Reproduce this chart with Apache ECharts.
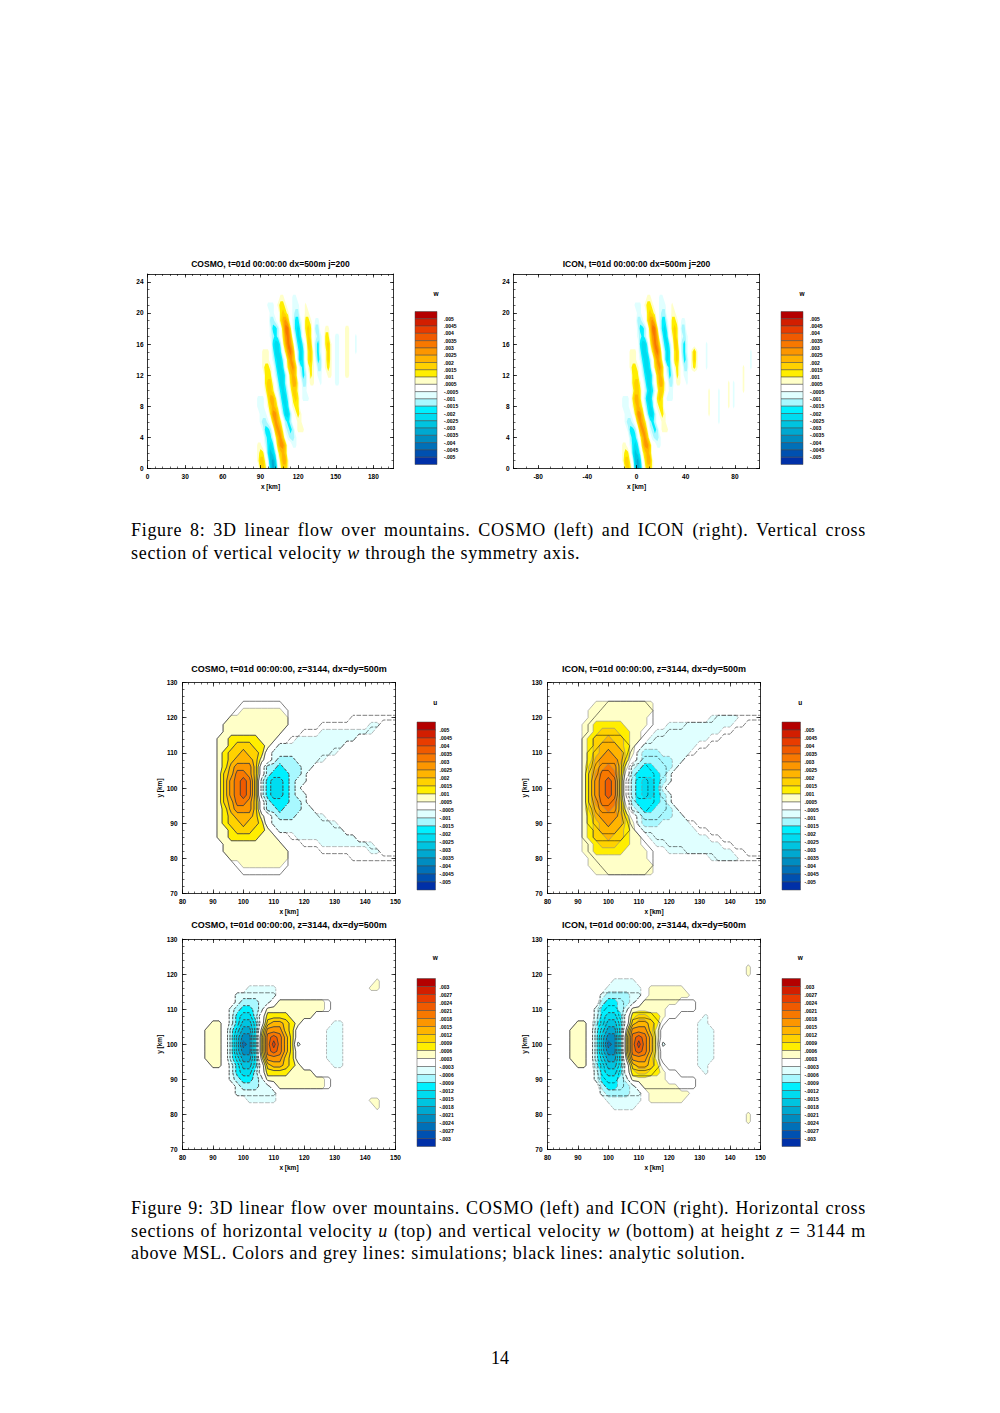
<!DOCTYPE html>
<html>
<head>
<meta charset="utf-8">
<title>3D linear flow over mountains - COSMO / ICON</title>
<script src="https://cdn.jsdelivr.net/npm/echarts@6/dist/echarts.min.js"></script>
<style>
  html, body { margin: 0; padding: 0; background: #fff; }
  #page { position: relative; width: 1000px; height: 1413px; overflow: hidden; background: #fff; }
  #chart { position: absolute; left: 0; top: 0; width: 1000px; height: 1413px; }
  .cap { position: absolute; left: 131px; width: 735px; font-family: "Liberation Serif", "Times New Roman", serif;
         font-size: 18px; letter-spacing: 0.7px; line-height: 22.5px; color: #000; }
  .cap .full { text-align: justify; text-align-last: justify; }
  #pageno { position: absolute; left: 0; width: 1000px; top: 1347px; text-align: center;
            font-family: "Liberation Serif", serif; font-size: 18px; line-height: 22.5px; }
</style>
</head>
<body>
<div id="page">
  <div id="chart"></div>
  <div class="cap" style="top:519px">
    <div class="full">Figure 8: 3D linear flow over mountains. COSMO (left) and ICON (right). Vertical cross</div>
    <div>section of vertical velocity <i>w</i> through the symmetry axis.</div>
  </div>
  <div class="cap" style="top:1197px">
    <div class="full">Figure 9: 3D linear flow over mountains. COSMO (left) and ICON (right). Horizontal cross</div>
    <div class="full">sections of horizontal velocity <i>u</i> (top) and vertical velocity <i>w</i> (bottom) at height <i>z</i> = 3144 m</div>
    <div>above MSL. Colors and grey lines: simulations; black lines: analytic solution.</div>
  </div>
  <div id="pageno">14</div>
</div>
<script>
// colour boxes of the colour bars, from the top box (largest value) down to the bottom box
const bandColors = ['#b40000', '#d21e00', '#e83c00', '#f05a00', '#f87800', '#fc9600', '#ffb400',
  '#ffd200', '#ffee00', '#ffffc8', '#ffffff', '#e0ffff', '#a8f8ff', '#00f0ff', '#00dcf0',
  '#00c4e0', '#00a8d0', '#008cc0', '#0070b8', '#0050b0', '#0030a8'];

// colour bar labels (box boundaries, top to bottom)
const labels0005 = ['.005', '.0045', '.004', '.0035', '.003', '.0025', '.002', '.0015', '.001', '.0005',
  '-.0005', '-.001', '-.0015', '-.002', '-.0025', '-.003', '-.0035', '-.004', '-.0045', '-.005'];
const labels0003 = ['.003', '.0027', '.0024', '.0021', '.0018', '.0015', '.0012', '.0009', '.0006', '.0003',
  '-.0003', '-.0006', '-.0009', '-.0012', '-.0015', '-.0018', '-.0021', '-.0024', '-.0027', '-.003'];

// tick labels
const xTicksCosmo8 = [0, 30, 60, 90, 120, 150, 180];
const xTicksIcon8 = [-80, -40, 0, 40, 80];
const zTicks8 = [0, 4, 8, 12, 16, 20, 24];
const xTicks9 = [80, 90, 100, 110, 120, 130, 140, 150];
const yTicks9 = [70, 80, 90, 100, 110, 120, 130];

// Fields, one string per grid row, one character per grid point.
// '.' = white box, '1'..'9' = positive box 1..9 (1 = first box above zero),
// 'a'..'i' = negative box 1..9 (a = first box below zero).

// Fig. 8, COSMO w: x = 80, 82 .. 176 km, one row per km of height (z = 0 .. 23 km)
const cosmoW8 = [
  '.....232.dfea1331',
  '....1331aefd.2441',
  '....122.cedb1343',
  '....11.acdc.3553..aa',
  '.......bcca1453.abba',
  '......accb.4541abcb.111',
  '.....abba.3542.bcb..11',
  '.....aaa.2553.bddb.121',
  '....aaa.13431acdc.122',
  '....aaa.2442.bddb.232.aaa',
  '.......1332.acdca1331.aa',
  '.......2331.bddb.2441.bb.11..a.....aa',
  '.......222.acddb.343.acb.21.aa..11.aa..11',
  '......1221.bddc.2453.bca121.bb.121.aa..11',
  '......111.acddb.3541bdc.231acb.131.aa..11',
  '......111.bddc.2564.bdc.231bca.131.aa..11..a',
  '..........cddb14652acdb.33.bca.231.aa..11..a',
  '.........abcb.2564.bdc.132.aba.22..aa..11..a',
  '.........accb.3662acdb.232.bb..11......11',
  '.........bba.2453.acca.221.aa',
  '.........aa..2321.abb..11',
  '........aaa.1221..aaa..1',
  '.............11...aa',
  ''
];

// Fig. 8, ICON w: x = -19, -17 .. 97 km, z = 0 .. 23 km
const iconW8 = [
  '.....232.dfea1331',
  '....1331aefd.2441',
  '....122.cedb1343',
  '....11.acdc.3553..aa',
  '.......bcca1453.abba',
  '......accb.4541abcb.111',
  '.....abba.3542.bcb..11' + '.....................' + 'a',
  '.....aaa.2553.bddb.121' + '.................' + '1...a',
  '....aaa.13431acdc.122' + '..................' + '1...a...1.a',
  '....aaa.2442.bddb.232.aaa' + '..............' + '1...a...1.a',
  '........1332.acdca1331.aa' + '..............' + '1...a...1.a...1',
  '........2331.bddb.2441.bb.11..a' + '................' + '1.a...1',
  '........222.acddb.343.acb.21.aa' + '......................' + '1',
  '.......1221.bddc.2453.bca121.bb.121...a' + '..............' + '1..a',
  '.......111.acddb.3541bdc.231acb.131...a' + '.................' + 'a',
  '.......111.bddc.2564.bdc.231bca.131...a' + '.................' + 'a',
  '...........cddb14652acdb.33.bca.......a',
  '..........abcb.2564.bdc.132.aba',
  '..........accb.3662acdb.232.bb',
  '..........bba.2453.acca.221.aa',
  '..........aa..2321.abb..11',
  '.........aaa.1221..aaa..1',
  '..............11...aa',
  ''
];

// Fig. 9 fields are symmetric about y = 100 km: rows for y = 100, 102 .. 130 km, x = 80, 82 .. 150 km
const cosmoU9 = [
  '......1356763acddcba',
  '......1356763acddcbaa',
  '......1346653.bcccbba',
  '......1245553.bbcbbbaa',
  '......12344431.abbbaaaaa',
  '......12334332.aaaaaaaaaaa',
  '......112333221.aaaaaaaaaaa',
  '......1122222111...aaaaaaaaaa',
  '.......1111111111......aaaaaaaaa',
  '.......11111111111.............aa',
  '........1111111111',
  '..........1111111',
  '', '', '', ''
];
const iconU9 = [
  '......1356762.bcddca',
  '......1356762.bcddcba',
  '......1356663.bccccba',
  '......13456531abccbbba',
  '......12455542.abbbbbaa',
  '......123454421abbbaaaaa',
  '......123444321.aaaaaaaaa',
  '......1233433211.aaaaaaaaaa',
  '......1123332211..aaaaaaaaaaa',
  '......11222221111...aaaaaaaaaaa',
  '.......1111111111..........aaaaa',
  '.......11111111111',
  '........1111111111',
  '', '', ''
];
const cosmoW9 = [
  '....111.behgc268642a....aaa',
  '....111.beggc267642.....aaa',
  '....111.bdffc155532.....aaa',
  '.....11.aceec.344321.....aa',
  '........acddb.22221111',
  '........abccba1111111111',
  '.........abbbaa.11111111',
  '.........aaaaaaa',
  '...........aaaaa' + '...............' + '11',
  '................................' + '1',
  '', '', '', '', '', ''
];
const iconW9 = [
  '....111.behgc268641a.....aaa',
  '....111.beggc267641......aaa',
  '....111.bdffc155531......aaa',
  '.....11.bdeec.34432......aa',
  '........acddc.233221......a',
  '........acccba111111',
  '.........bccbba.111111',
  '.........abbbbaa.1111111',
  '..........aaaaaa.111111',
  '...........aaaa',
  '.................................' + '1',
  '.................................' + '1',
  '', '', '', ''
];
// analytic solution (black contour lines), same for both models
const analyticU9 = [
  '......1356763acddcba',
  '......1356763acddcbaa',
  '......1346653.bcccbba',
  '......1245553.bbcbbbaa',
  '......12344431.abbbaaaa',
  '......12334332.aaaaaaaaaa',
  '......112333221.aaaaaaaaaaa',
  '......1122222111..aaaaaaaaaaa',
  '.......1111111111...aaaaaaaaaaa',
  '.......11111111111.....aaaaaaaaaa',
  '........1111111111..........aaaaaaaa',
  '.........111111111',
  '..........1111111',
  '', '', ''
];
const analyticW9 = [
  '....111.behgc268642a',
  '....111.beggc267642',
  '....111.bdffc155532',
  '.....11.aceec.344321',
  '........acddb.22221111',
  '........abccba11111111111',
  '.........abbbaa.111111111',
  '.........aaaaaaa',
  '', '', '', '', '', '', '', ''
];

const FONT = 'Liberation Sans, Arial, sans-serif';
const range = (a, b, s) => { const r = []; for (let v = a; v <= b + 1e-9; v += s) r.push(+v.toFixed(6)); return r; };

const panels = [
  { rows: cosmoW8, nx: 49, ny: 24, x0: 80, dx: 2, y0: 0, dy: 1, step: 0.0005, mirror: false, lines: false,
    rect: [147.5, 274, 246, 194.5], x: [0, 196], y: [0, 25],
    xMajor: xTicksCosmo8, xMinor: range(0, 196, 6), yMajor: zTicks8, yMinor: range(0, 25, 1),
    title: 'COSMO, t=01d 00:00:00 dx=500m j=200', titleSize: 8.5, titleGap: 5.5, tickLen: 3.5, yName: '', yLabelMargin: 4,
    cbar: { rect: [415, 311.5, 22, 153], labels: labels0005, name: 'w', nameGap: 15, margin: 7, shift: 20 } },
  { rows: iconW8, nx: 59, ny: 24, x0: -19, dx: 2, y0: 0, dy: 1, step: 0.0005, mirror: false, lines: false,
    rect: [513.5, 274, 246, 194.5], x: [-100, 100], y: [0, 25],
    xMajor: xTicksIcon8, xMinor: range(-100, 100, 10), yMajor: zTicks8, yMinor: range(0, 25, 1),
    title: 'ICON, t=01d 00:00:00 dx=500m j=200', titleSize: 8.5, titleGap: 5.5, tickLen: 3.5, yName: '', yLabelMargin: 4,
    cbar: { rect: [781, 311.5, 22, 153], labels: labels0005, name: 'w', nameGap: 15, margin: 7, shift: 20 } },
  { rows: cosmoU9, analytic: analyticU9, nx: 36, ny: 16, x0: 80, dx: 2, y0: 100, dy: 2, step: 0.0005, mirror: true, lines: true,
    rect: [182.5, 682.5, 213, 211], x: [80, 150], y: [70, 130],
    xMajor: xTicks9, xMinor: range(80, 150, 2), yMajor: yTicks9, yMinor: range(70, 130, 2),
    title: 'COSMO, t=01d 00:00:00, z=3144, dx=dy=500m', titleSize: 9, titleGap: 9, tickLen: 4, yName: 'y [km]', yLabelMargin: 5,
    cbar: { rect: [417, 722, 18.5, 168], labels: labels0005, name: 'u', nameGap: 16.5, margin: 4, shift: 18 } },
  { rows: iconU9, analytic: analyticU9, nx: 36, ny: 16, x0: 80, dx: 2, y0: 100, dy: 2, step: 0.0005, mirror: true, lines: true,
    rect: [547.5, 682.5, 213, 211], x: [80, 150], y: [70, 130],
    xMajor: xTicks9, xMinor: range(80, 150, 2), yMajor: yTicks9, yMinor: range(70, 130, 2),
    title: 'ICON, t=01d 00:00:00, z=3144, dx=dy=500m', titleSize: 9, titleGap: 9, tickLen: 4, yName: 'y [km]', yLabelMargin: 5,
    cbar: { rect: [782, 722, 18.5, 168], labels: labels0005, name: 'u', nameGap: 16.5, margin: 4, shift: 18 } },
  { rows: cosmoW9, analytic: analyticW9, nx: 36, ny: 16, x0: 80, dx: 2, y0: 100, dy: 2, step: 0.0003, mirror: true, lines: true,
    rect: [182.5, 939, 213, 210.5], x: [80, 150], y: [70, 130],
    xMajor: xTicks9, xMinor: range(80, 150, 2), yMajor: yTicks9, yMinor: range(70, 130, 2),
    title: 'COSMO, t=01d 00:00:00, z=3144, dx=dy=500m', titleSize: 9, titleGap: 10, tickLen: 4, yName: 'y [km]', yLabelMargin: 5,
    cbar: { rect: [417, 978.5, 18.5, 168], labels: labels0003, name: 'w', nameGap: 18, margin: 4, shift: 18 } },
  { rows: iconW9, analytic: analyticW9, nx: 36, ny: 16, x0: 80, dx: 2, y0: 100, dy: 2, step: 0.0003, mirror: true, lines: true,
    rect: [547.5, 939, 213, 210.5], x: [80, 150], y: [70, 130],
    xMajor: xTicks9, xMinor: range(80, 150, 2), yMajor: yTicks9, yMinor: range(70, 130, 2),
    title: 'ICON, t=01d 00:00:00, z=3144, dx=dy=500m', titleSize: 9, titleGap: 10, tickLen: 4, yName: 'y [km]', yLabelMargin: 5,
    cbar: { rect: [782, 978.5, 18.5, 168], labels: labels0003, name: 'w', nameGap: 18, margin: 4, shift: 18 } }
];

// ---- field helpers ----
function levelOf(ch) {
  if (ch >= '1' && ch <= '9') return ch.charCodeAt(0) - 48;
  if (ch >= 'a' && ch <= 'j') return 96 - ch.charCodeAt(0);
  return 0;
}
// a box index stands for the middle of its box
function toValue(k, step) { return k === 0 ? 0 : Math.sign(k) * (Math.abs(k) + 0.5) * step; }

function buildField(p, source) {
  let rows = source.slice();
  while (rows.length < p.ny) rows.push('');
  let y0 = p.y0;
  if (p.mirror) {
    rows = rows.slice(1).reverse().concat(rows);
    y0 = p.y0 - (p.ny - 1) * p.dy;
  }
  const v = rows.map(s => s.padEnd(p.nx, '.').split('').map(ch => toValue(levelOf(ch), p.step)));
  return { v, nx: p.nx, ny: rows.length, x: c => p.x0 + c * p.dx, y: r => y0 + r * p.dy };
}

function cellQuad(f, r, c) {
  return [[f.x(c), f.y(r)], [f.x(c + 1), f.y(r)], [f.x(c + 1), f.y(r + 1)], [f.x(c), f.y(r + 1)]];
}
function cellVals(f, r, c) {
  return [f.v[r][c], f.v[r][c + 1], f.v[r + 1][c + 1], f.v[r + 1][c]];
}

// filled contour regions (value beyond each box boundary), stacked from the weakest box up
function buildBands(f, step) {
  const out = [];
  for (let k = 1; k <= 10; k++) {
    for (const sg of [1, -1]) {
      const t = sg * k * step;
      const polys = [];
      for (let r = 0; r < f.ny - 1; r++) {
        for (let c = 0; c < f.nx - 1; c++) {
          const g = cellVals(f, r, c).map(a => sg * (a - t));
          const inside = g.map(a => a >= 0);
          if (!inside.some(Boolean)) continue;
          const quad = cellQuad(f, r, c);
          if (inside.every(Boolean)) { polys.push(quad); continue; }
          const poly = [];
          for (let i = 0; i < 4; i++) {
            const j = (i + 1) % 4;
            if (inside[i]) poly.push(quad[i]);
            if (inside[i] !== inside[j]) {
              const s = g[i] / (g[i] - g[j]);
              poly.push([quad[i][0] + s * (quad[j][0] - quad[i][0]), quad[i][1] + s * (quad[j][1] - quad[i][1])]);
            }
          }
          if (poly.length >= 3) polys.push(poly);
        }
      }
      if (polys.length) out.push({ color: bandColors[10 - sg * k], polys });
    }
  }
  return out;
}

// contour lines on the box boundaries (marching squares)
function buildLines(f, step) {
  const pos = [], neg = [];
  for (let k = 1; k <= 10; k++) {
    for (const sg of [1, -1]) {
      const t = sg * k * step;
      const dst = sg > 0 ? pos : neg;
      for (let r = 0; r < f.ny - 1; r++) {
        for (let c = 0; c < f.nx - 1; c++) {
          const vals = cellVals(f, r, c);
          const up = vals.map(a => a >= t);
          const n = up.filter(Boolean).length;
          if (n === 0 || n === 4) continue;
          const quad = cellQuad(f, r, c);
          const pts = [];
          for (let i = 0; i < 4; i++) {
            const j = (i + 1) % 4;
            if (up[i] !== up[j]) {
              const s = (t - vals[i]) / (vals[j] - vals[i]);
              pts[i] = [quad[i][0] + s * (quad[j][0] - quad[i][0]), quad[i][1] + s * (quad[j][1] - quad[i][1])];
            }
          }
          const e = [0, 1, 2, 3].filter(i => pts[i]);
          if (e.length === 2) dst.push([pts[e[0]], pts[e[1]]]);
          else if (e.length === 4) {
            const mid = (vals[0] + vals[1] + vals[2] + vals[3]) / 4;
            if ((mid >= t) === up[0]) dst.push([pts[0], pts[1]], [pts[2], pts[3]]);
            else dst.push([pts[3], pts[0]], [pts[1], pts[2]]);
          }
        }
      }
    }
  }
  return { pos, neg };
}

// ---- option building ----
const grids = [], xAxes = [], yAxes = [], series = [];

function axisBase(extra) {
  return Object.assign({
    type: 'value', z: 10,
    splitLine: { show: false },
    axisLine: { show: true, onZero: false, lineStyle: { color: '#000', width: 0.8 } },
    axisLabel: { show: false },
    axisTick: { show: false }
  }, extra);
}
const hiddenLine = { show: false, onZero: false };
const tickFont = { show: true, fontFamily: FONT, fontSize: 6.5, fontWeight: 'bold', color: '#000' };
const nameFont = { fontFamily: FONT, fontSize: 6.5, fontWeight: 'bold', color: '#000' };

function addPanel(p) {
  const gi = grids.length;
  const rect = { left: p.rect[0], top: p.rect[1], width: p.rect[2], height: p.rect[3] };
  grids.push(Object.assign({}, rect), Object.assign({}, rect));
  const major = v => ({ show: true, inside: true, length: p.tickLen, customValues: v, lineStyle: { color: '#000', width: 0.7 } });
  const minor = v => ({ show: true, inside: true, length: 2, customValues: v, lineStyle: { color: '#000', width: 0.6 } });
  const xr = { min: p.x[0], max: p.x[1] }, yr = { min: p.y[0], max: p.y[1] };
  const xi = xAxes.length, yi = yAxes.length;

  xAxes.push(
    axisBase(Object.assign({ gridIndex: gi, position: 'bottom', axisTick: major(p.xMajor),
      axisLabel: Object.assign({ customValues: p.xMajor, margin: 4 }, tickFont),
      name: 'x [km]', nameLocation: 'middle', nameGap: 14.5, nameTextStyle: nameFont }, xr)),
    axisBase(Object.assign({ gridIndex: gi, position: 'top', axisTick: major(p.xMajor),
      name: p.title, nameLocation: 'middle', nameGap: p.titleGap,
      nameTextStyle: { fontFamily: FONT, fontSize: p.titleSize, fontWeight: 'bold', color: '#000' } }, xr)),
    axisBase(Object.assign({ gridIndex: gi + 1, position: 'bottom', axisLine: hiddenLine, axisTick: minor(p.xMinor) }, xr)),
    axisBase(Object.assign({ gridIndex: gi + 1, position: 'top', axisLine: hiddenLine, axisTick: minor(p.xMinor) }, xr))
  );
  yAxes.push(
    axisBase(Object.assign({ gridIndex: gi, position: 'left', axisTick: major(p.yMajor),
      axisLabel: Object.assign({ customValues: p.yMajor, margin: p.yLabelMargin }, tickFont),
      name: p.yName, nameLocation: 'middle', nameGap: 19, nameTextStyle: nameFont }, yr)),
    axisBase(Object.assign({ gridIndex: gi, position: 'right', axisTick: major(p.yMajor) }, yr)),
    axisBase(Object.assign({ gridIndex: gi + 1, position: 'left', axisLine: hiddenLine, axisTick: minor(p.yMinor) }, yr)),
    axisBase(Object.assign({ gridIndex: gi + 1, position: 'right', axisLine: hiddenLine, axisTick: minor(p.yMinor) }, yr))
  );

  const field = buildField(p, p.rows);
  const bands = buildBands(field, p.step);
  series.push({
    type: 'custom', xAxisIndex: xi, yAxisIndex: yi, silent: true, z: 2,
    data: bands.map(() => [p.x[0], p.y[0]]),
    renderItem(params, api) {
      const band = bands[params.dataIndex];
      let d = '';
      for (const poly of band.polys) {
        poly.forEach((pt, j) => {
          const q = api.coord(pt);
          d += (j ? 'L' : 'M') + q[0].toFixed(2) + ' ' + q[1].toFixed(2);
        });
        d += 'Z';
      }
      return { type: 'path', shape: { pathData: d }, style: { fill: band.color } };
    }
  });

  if (p.lines) {
    // grey lines: simulation, black lines: analytic solution
    const sets = [{ lines: buildLines(field, p.step), color: '#8a8a8a', width: 0.6 }];
    if (p.analytic) sets.push({ lines: buildLines(buildField(p, p.analytic), p.step), color: '#111', width: 0.55 });
    const toPath = (segs, api) => segs.map(s => {
      const a = api.coord(s[0]), b = api.coord(s[1]);
      return 'M' + a[0].toFixed(2) + ' ' + a[1].toFixed(2) + 'L' + b[0].toFixed(2) + ' ' + b[1].toFixed(2);
    }).join('');
    series.push({
      type: 'custom', xAxisIndex: xi, yAxisIndex: yi, silent: true, z: 3,
      data: [[p.x[0], p.y[0]]],
      renderItem(params, api) {
        const children = [];
        for (const set of sets) {
          if (set.lines.pos.length) children.push({ type: 'path', shape: { pathData: toPath(set.lines.pos, api) },
            style: { fill: 'none', stroke: set.color, lineWidth: set.width } });
          if (set.lines.neg.length) children.push({ type: 'path', shape: { pathData: toPath(set.lines.neg, api) },
            style: { fill: 'none', stroke: set.color, lineWidth: set.width, lineDash: [2.5, 1.5] } });
        }
        return { type: 'group', children };
      }
    });
  }
  addColorbar(p.cbar);
}

function addColorbar(cb) {
  const gi = grids.length;
  grids.push({ left: cb.rect[0], top: cb.rect[1], width: cb.rect[2], height: cb.rect[3] });
  const xi = xAxes.length, yi = yAxes.length;
  xAxes.push({
    gridIndex: gi, type: 'value', min: 0, max: 1, position: 'top',
    axisLine: { show: false }, axisTick: { show: false }, axisLabel: { show: false }, splitLine: { show: false },
    name: cb.name, nameLocation: 'middle', nameGap: cb.nameGap,
    nameTextStyle: { fontFamily: FONT, fontSize: 6.5, fontWeight: 'bold', color: '#000', padding: [0, 0, 0, cb.shift] }
  });
  yAxes.push({
    gridIndex: gi, type: 'value', min: 0, max: 21, position: 'right', z: 10,
    axisLine: { show: false }, axisTick: { show: false }, splitLine: { show: false },
    axisLabel: { customValues: range(1, 20, 1), formatter: v => cb.labels[20 - Math.round(v)], margin: cb.margin,
      fontFamily: FONT, fontSize: 5, fontWeight: 'bold', color: '#000' }
  });
  series.push({
    type: 'custom', xAxisIndex: xi, yAxisIndex: yi, silent: true,
    data: bandColors.map((c, i) => [0, 20 - i]),
    renderItem(params, api) {
      const b = api.value(1);
      const p0 = api.coord([0, b + 1]), p1 = api.coord([1, b]);
      return { type: 'rect', shape: { x: p0[0], y: p0[1], width: p1[0] - p0[0], height: p1[1] - p0[1] },
        style: { fill: bandColors[params.dataIndex], stroke: '#444', lineWidth: 0.5 } };
    }
  });
}

panels.forEach(addPanel);

const chart = echarts.init(document.getElementById('chart'), null, { renderer: 'svg' });
chart.setOption({
  backgroundColor: '#fff',
  animation: false,
  grid: grids,
  xAxis: xAxes,
  yAxis: yAxes,
  series: series
});
</script>
</body>
</html>
